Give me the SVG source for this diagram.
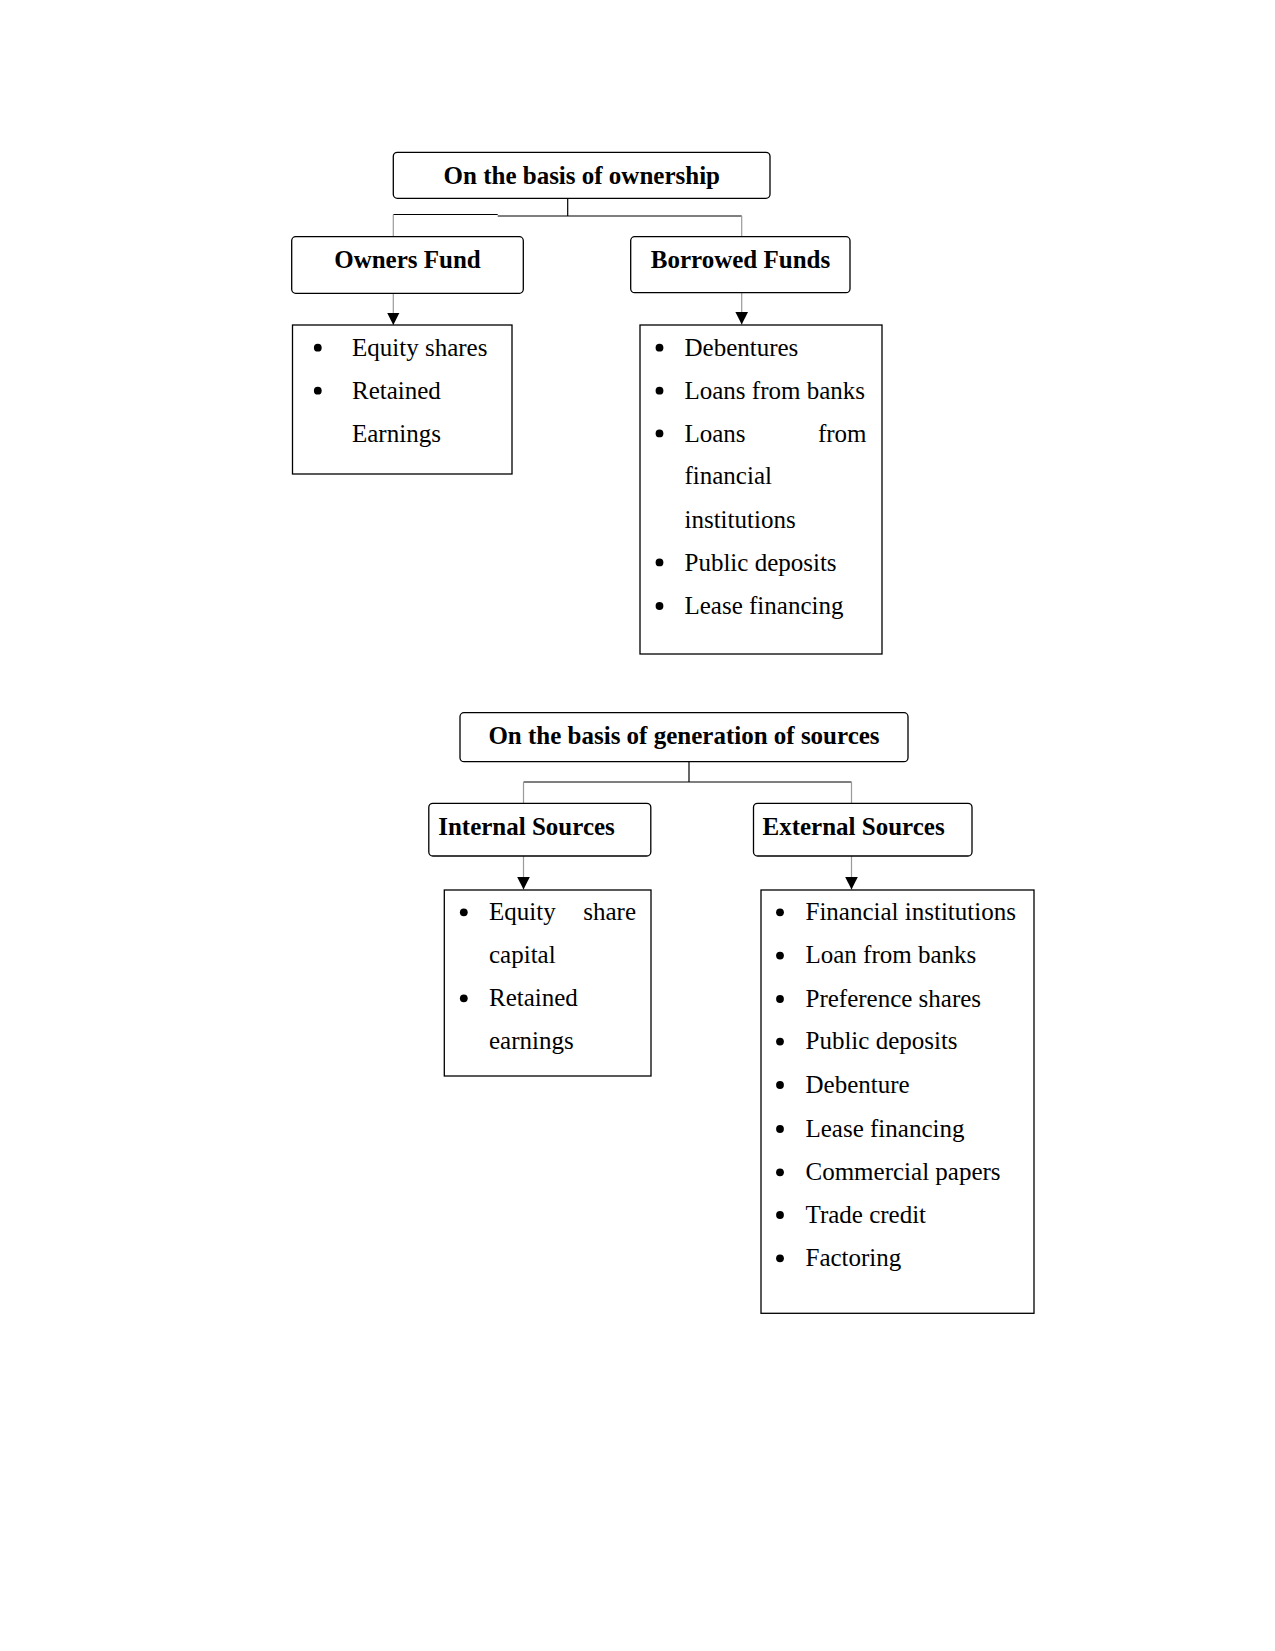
<svg xmlns="http://www.w3.org/2000/svg" width="1275" height="1651" viewBox="0 0 1275 1651">
<style>
.hdr{fill:#fff;stroke:#000;stroke-width:1.3}
.lst{fill:#fff;stroke:#000;stroke-width:1.3}
.b{font-family:'Liberation Serif','DejaVu Serif',serif;font-weight:bold;font-size:25px;fill:#000}
.r{font-family:'Liberation Serif','DejaVu Serif',serif;font-size:25px;fill:#000}
.k{stroke:#000;stroke-width:1.2;fill:none}
.g{stroke:#9a9a9a;stroke-width:1.2;fill:none}
.dot{fill:#000}
</style>
<defs>
<marker id="ah" markerUnits="userSpaceOnUse" markerWidth="14" markerHeight="14" refX="12.5" refY="6.3" orient="auto">
<path d="M0,0 L12.5,6.3 L0,12.6 Z" fill="#000"/>
</marker>
</defs>
<rect width="1275" height="1651" fill="#fff"/>
<g id="connectors">
<line class="k" x1="567.7" y1="198.3" x2="567.7" y2="216"/>
<line class="k" x1="393.3" y1="214.5" x2="497.7" y2="214.5"/>
<line class="k" x1="497.7" y1="216" x2="741.7" y2="216"/>
<line class="g" x1="393.3" y1="214.5" x2="393.3" y2="236.7"/>
<line class="g" x1="741.7" y1="216" x2="741.7" y2="236.7"/>
<line class="g" x1="393.3" y1="293.3" x2="393.3" y2="325" marker-end="url(#ah)"/>
<line class="g" x1="741.7" y1="292.7" x2="741.7" y2="324.5" marker-end="url(#ah)"/>
<line class="k" x1="689" y1="761.7" x2="689" y2="782"/>
<line class="k" x1="523.5" y1="782" x2="851.5" y2="782"/>
<line class="g" x1="523.5" y1="782" x2="523.5" y2="803.3"/>
<line class="g" x1="851.5" y1="782" x2="851.5" y2="803.3"/>
<line class="g" x1="523.5" y1="856" x2="523.5" y2="889.5" marker-end="url(#ah)"/>
<line class="g" x1="851.5" y1="856" x2="851.5" y2="889.5" marker-end="url(#ah)"/>
</g>
<g id="ownership">
<rect class="hdr" x="393.3" y="152.3" width="376.7" height="46" rx="4"/>
<text class="b" x="581.8" y="184.3" text-anchor="middle">On the basis of ownership</text>
</g>
<g id="owners-fund">
<rect class="hdr" x="291.7" y="236.7" width="231.6" height="56.6" rx="4"/>
<text class="b" x="407.5" y="268.3" text-anchor="middle">Owners Fund</text>
</g>
<g id="borrowed-funds">
<rect class="hdr" x="630.7" y="236.7" width="219.3" height="56" rx="4"/>
<text class="b" x="740.5" y="267.7" text-anchor="middle">Borrowed Funds</text>
</g>
<g id="owners-list">
<rect class="lst" x="292.5" y="325" width="219.5" height="149"/>
<circle class="dot" cx="317.8" cy="347.7" r="3.9"/>
<circle class="dot" cx="317.8" cy="390.7" r="3.9"/>
<text class="r" x="352" y="356">Equity shares</text>
<text class="r" x="352" y="399">Retained</text>
<text class="r" x="352" y="441.7">Earnings</text>
</g>
<g id="borrowed-list">
<rect class="lst" x="640" y="325" width="242" height="329"/>
<circle class="dot" cx="659.5" cy="347.7" r="3.9"/>
<circle class="dot" cx="659.5" cy="390.7" r="3.9"/>
<circle class="dot" cx="659.5" cy="433.4" r="3.9"/>
<circle class="dot" cx="659.5" cy="562.4" r="3.9"/>
<circle class="dot" cx="659.5" cy="606" r="3.9"/>
<text class="r" x="684.5" y="356">Debentures</text>
<text class="r" x="684.5" y="399">Loans from banks</text>
<text class="r" x="684.5" y="441.7">Loans</text>
<text class="r" x="866.5" y="441.7" text-anchor="end">from</text>
<text class="r" x="684.5" y="484.3">financial</text>
<text class="r" x="684.5" y="528">institutions</text>
<text class="r" x="684.5" y="570.7">Public deposits</text>
<text class="r" x="684.5" y="614.3">Lease financing</text>
</g>
<g id="generation">
<rect class="hdr" x="460" y="712.7" width="448" height="49" rx="4"/>
<text class="b" x="684" y="744.3" text-anchor="middle">On the basis of generation of sources</text>
</g>
<g id="internal-sources">
<rect class="hdr" x="428.8" y="803.3" width="222" height="52.7" rx="4"/>
<text class="b" x="438.2" y="835">Internal Sources</text>
</g>
<g id="external-sources">
<rect class="hdr" x="753.5" y="803.3" width="218.5" height="52.7" rx="4"/>
<text class="b" x="762.5" y="835">External Sources</text>
</g>
<g id="internal-list">
<rect class="lst" x="444.3" y="890" width="206.7" height="186"/>
<circle class="dot" cx="463.8" cy="912.3" r="3.9"/>
<circle class="dot" cx="463.8" cy="998.3" r="3.9"/>
<text class="r" x="489" y="920">Equity</text>
<text class="r" x="636" y="920" text-anchor="end">share</text>
<text class="r" x="489" y="962.7">capital</text>
<text class="r" x="489" y="1006">Retained</text>
<text class="r" x="489" y="1048.7">earnings</text>
</g>
<g id="external-list">
<rect class="lst" x="761" y="890" width="273" height="423.3"/>
<circle class="dot" cx="780" cy="912.3" r="3.9"/>
<circle class="dot" cx="780" cy="955.6" r="3.9"/>
<circle class="dot" cx="780" cy="999" r="3.9"/>
<circle class="dot" cx="780" cy="1041.6" r="3.9"/>
<circle class="dot" cx="780" cy="1085" r="3.9"/>
<circle class="dot" cx="780" cy="1129" r="3.9"/>
<circle class="dot" cx="780" cy="1172.3" r="3.9"/>
<circle class="dot" cx="780" cy="1215" r="3.9"/>
<circle class="dot" cx="780" cy="1258.3" r="3.9"/>
<text class="r" x="805.5" y="920">Financial institutions</text>
<text class="r" x="805.5" y="963.3">Loan from banks</text>
<text class="r" x="805.5" y="1006.7">Preference shares</text>
<text class="r" x="805.5" y="1049.3">Public deposits</text>
<text class="r" x="805.5" y="1092.7">Debenture</text>
<text class="r" x="805.5" y="1136.7">Lease financing</text>
<text class="r" x="805.5" y="1180">Commercial papers</text>
<text class="r" x="805.5" y="1222.7">Trade credit</text>
<text class="r" x="805.5" y="1266">Factoring</text>
</g>
</svg>
